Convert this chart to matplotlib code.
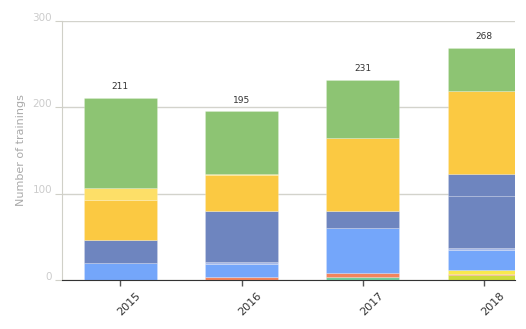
import numpy as np
import matplotlib
matplotlib.use("Agg")
import matplotlib.pyplot as plt
from matplotlib.transforms import ScaledTranslation

# Trainings per year, stacked by category (bottom to top)
years = ["2015", "2016", "2017", "2018"]
teal = [0, 0, 4, 0]
lime = [0, 0, 0, 6]
orange = [0, 4, 4, 1]
yellow = [0, 0, 0, 4]
light_blue = [20, 14, 52, 24]
lavender = [0, 3, 0, 2]
dark_blue = [26, 59, 20, 60]
dark_blue_b = [0, 0, 0, 26]
gold = [47, 42, 84, 96]
light_yellow = [14, 1, 0, 0]
green = [104, 72, 67, 49]

series = [teal, lime, orange, yellow, light_blue, lavender,
          dark_blue, dark_blue_b, gold, light_yellow, green]
colors = ["#6fcc9e", "#cddc3a", "#f2845c", "#f9e94d", "#74a6fa", "#a5b8e8",
          "#6e85bf", "#6e85bf", "#fbc942", "#fddf68", "#8dc473"]

fig = plt.figure(figsize=(5.26, 3.29), dpi=100)
ax = fig.add_axes([62 / 526, 1 - 280 / 329, (515 - 62) / 526, (280 - 20.7) / 329])

x = np.arange(len(years))
bottom = np.zeros(len(years))
for vals, col in zip(series, colors):
    vals = np.array(vals, dtype=float)
    ax.bar(x, vals, width=0.6, bottom=bottom, color=col,
           edgecolor=(1, 1, 1, 0.25), linewidth=0.5, zorder=2)
    bottom += vals

for xi, tot in zip(x, bottom):
    ax.annotate(f"{int(tot)}", (xi, tot), xytext=(0, 5), textcoords="offset points",
                ha="center", va="bottom", fontsize=6.5, color="#333333")

ax.set_xlim(-0.48, 3.255)
ax.set_ylim(0, 300)
ax.set_yticks([0, 100, 200, 300])
ax.set_xticks(x)
ax.set_xticklabels(years, rotation=45, fontsize=8, color="#333333")
ax.tick_params(axis="x", length=4, color="#555555", width=1)
ax.tick_params(axis="y", length=5, color="#d0d0c8", labelcolor="#cccccc",
               labelsize=7.5, pad=2)
ax.yaxis.grid(True, color="#d3d3cc", linewidth=1, zorder=0)
ax.set_axisbelow(True)

ax.set_ylabel("Number of trainings", color="#aaaaaa", fontsize=8, labelpad=5)

for s in ["top", "right"]:
    ax.spines[s].set_visible(False)
ax.spines["left"].set_color("#d0d0c8")
ax.spines["bottom"].set_color("#333333")
ax.spines["bottom"].set_zorder(3)

off = ScaledTranslation(0, 3 / 72, fig.dpi_scale_trans)
for lbl in ax.get_yticklabels():
    lbl.set_transform(lbl.get_transform() + off)
for lbl in ax.get_xticklabels():
    lbl.set_horizontalalignment("right")
    lbl.set_rotation_mode("anchor")
    lbl.set_transform(lbl.get_transform() + ScaledTranslation(11 / 72, 0, fig.dpi_scale_trans))

fig.savefig("out.png", dpi=100)
